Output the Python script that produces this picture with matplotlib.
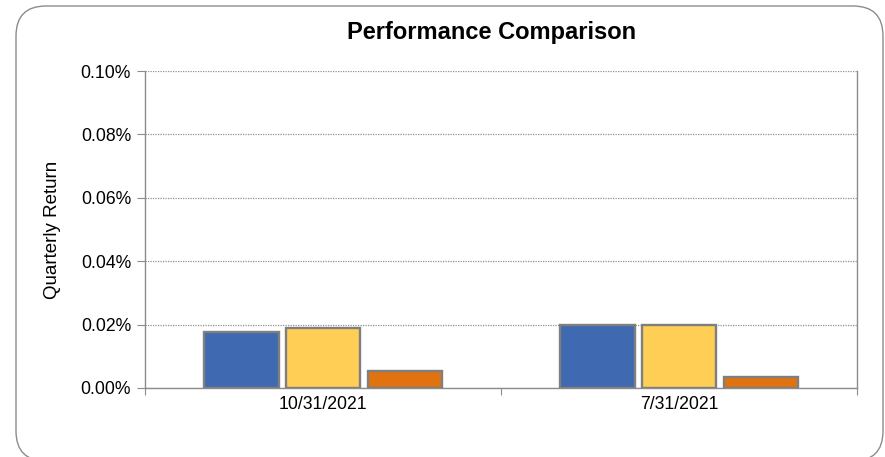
import matplotlib
matplotlib.use("Agg")
import matplotlib.pyplot as plt
from matplotlib import font_manager
from matplotlib.patches import FancyBboxPatch
from matplotlib.transforms import IdentityTransform
import numpy as np

plt.rcParams["font.family"] = ["Liberation Sans", "DejaVu Sans"]

categories = ["10/31/2021", "7/31/2021"]
series1 = [0.0177, 0.0199]   # blue
series2 = [0.0190, 0.0199]   # yellow
series3 = [0.0055, 0.0035]   # orange
colors = ["#3F6AB2", "#FFCF55", "#E07310"]

# narrow font for ticks / axis label if it is installed
names = {f.name for f in font_manager.fontManager.ttflist}
if "Liberation Sans Narrow" in names:
    small = dict(family=["Liberation Sans Narrow", "Liberation Sans"], size=15.5)
    ylab = dict(family=["Liberation Sans Narrow", "Liberation Sans"], size=16)
else:
    small = dict(family=["Liberation Sans"], size=12.7)
    ylab = dict(family=["Liberation Sans"], size=13.5)

fig = plt.figure(figsize=(8.85, 4.57), dpi=100)

# rounded outer frame (pixel coords)
frame = FancyBboxPatch((16, -4), 867, 455, boxstyle="round,pad=0,rounding_size=30",
                       transform=IdentityTransform(), facecolor="white",
                       edgecolor="#8C8C8C", linewidth=1.0, zorder=0)
fig.add_artist(frame)

ax = fig.add_axes([145 / 885, 69 / 457, 712 / 885, 317 / 457])
ax.set_facecolor("none")

centers = np.arange(len(categories)) + 0.5
width = 0.21
step = 0.23
for i, (vals, col) in enumerate(zip([series1, series2, series3], colors)):
    ax.bar(centers + (i - 1) * step, vals, width=width, color=col,
           edgecolor="#7F7F7F", linewidth=1.7, zorder=3)

ax.set_xlim(0, 2)
ax.set_ylim(0, 0.10)
yt = np.arange(0, 0.101, 0.02)
ax.set_yticks(yt)
ax.set_yticklabels([f"{v:.2f}%" for v in yt], **small)
ax.set_xticks([0, 1, 2])
ax.set_xticklabels([])
ax.set_xticks(centers, minor=True)
ax.set_xticklabels(categories, minor=True, **small)
ax.tick_params(axis="x", which="minor", length=0, pad=6)
ax.tick_params(axis="x", which="major", length=5, color="#8C8C8C")
ax.tick_params(axis="y", length=6, color="#8C8C8C", pad=4)

ax.yaxis.grid(True, linestyle=(0, (1, 1)), color="#909090", linewidth=0.9, zorder=0)
for s in ["left", "bottom", "right"]:
    ax.spines[s].set_color("#8C8C8C")
    ax.spines[s].set_linewidth(1.0)
ax.spines["top"].set_visible(False)

ax.set_ylabel("Quarterly Return", labelpad=14, **ylab)
fig.text(492 / 885, 1 - 33 / 457, "Performance Comparison", ha="center", va="center",
         fontsize=17, fontweight="bold")

fig.savefig("out.png", dpi=100)
